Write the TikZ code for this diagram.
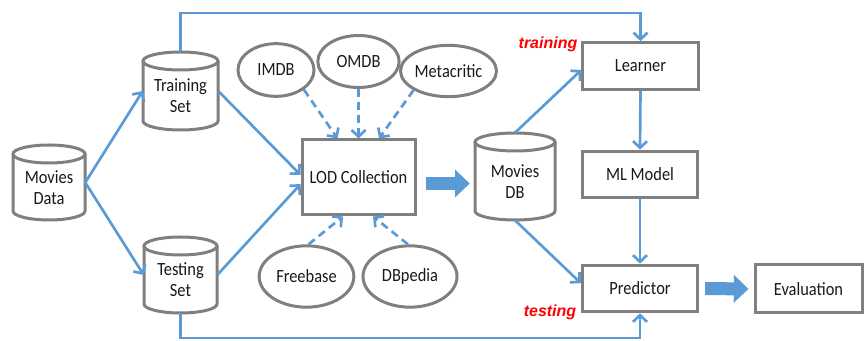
\documentclass[tikz,border=0pt]{standalone}
\usepackage{fontspec}
\setmainfont{Carlito}[FakeStretch=0.88]
\newfontfamily\redfont{Liberation Sans}
\usetikzlibrary{arrows.meta,shapes.geometric,calc}
\definecolor{bl}{HTML}{5B9BD5}
\definecolor{gr}{HTML}{7F7F7F}
\newcommand\mycyl[6]{%
  \pgfmathsetmacro\cylcx{(#2+#4)/2}%
  \pgfmathsetmacro\cylcy{(#3+#5)/2}%
  \pgfmathsetmacro\cylrx{(#4-#2)/2*0.75}%
  \pgfmathsetmacro\cylw{(#4-#2)*0.75}%
  \pgfmathsetmacro\cylh{(#5-#3)*0.75}%
  \node[inner sep=0pt, minimum width=\cylw pt, minimum height=\cylh pt] (#1) at (\cylcx,\cylcy) {};
  \draw[cylline] (#2,#3+9) -- (#2,#5-9) arc[start angle=180,end angle=360,x radius=\cylrx pt,y radius=6.75pt] -- (#4,#3+9);
  \draw[cylline] (\cylcx,#3+9) ellipse[x radius=\cylrx pt, y radius=6.75pt];
  \node[txt] (#1t) at (\cylcx,\cylcy+5) {#6};
}
\begin{document}
\begin{tikzpicture}[x=0.75pt,y=-0.75pt,
  txt/.style={font=\fontsize{14}{15.75}\selectfont, text=black!90, align=center, inner sep=0pt},
  cylline/.style={draw=gr, line width=2.25pt},
  box/.style={txt, draw=gr, line width=2.25pt, rectangle, minimum width=86.5pt, minimum height=35pt},
  src/.style={txt, draw=gr, line width=2.25pt, ellipse},
  arr/.style={draw=bl, line width=2pt, -{Straight Barb[length=5pt,width=10.5pt]}},
  darr/.style={arr, dash pattern=on 6pt off 3.75pt},
  fat/.style={draw=bl, line width=9.75pt, -{Triangle[length=11pt,width=20.25pt]}},
  redlbl/.style={font=\redfont\fontsize{12}{14}\selectfont\bfseries\itshape, text=red, inner sep=0pt}
]
\useasboundingbox (0,0) rectangle (864,341);

% cylinders
\mycyl{md}{13}{145}{85}{220}{Movies\\Data}
\mycyl{train}{143}{52}{218}{130}{Training\\Set}
\mycyl{test}{144}{237}{217}{313}{Testing\\Set}
\mycyl{mdb}{475}{133}{555}{220}{Movies\\DB}

% boxes
\node[box, minimum width=84.75pt, minimum height=56.25pt] (lod) at (358.5,177.5) {LOD Collection};
\node[box] (learn) at (640.5,66) {Learner};
\node[box] (ml) at (640,174.5) {ML Model};
\node[box] (pred) at (640,288.5) {Predictor};
\node[box, minimum width=80.25pt, minimum height=36pt] (eval) at (808.5,289) {Evaluation};

% ellipses
\node[src, minimum width=57pt, minimum height=39.5pt] (imdb) at (276,70) {IMDB};
\node[src, minimum width=61pt, minimum height=39pt] (omdb) at (358.5,61.5) {OMDB};
\node[src, minimum width=64pt, minimum height=38.5pt] (meta) at (448.5,71) {Metacritic};
\node[src, minimum width=71pt, minimum height=46pt] (free) at (306.5,276.5) {Freebase};
\node[src, minimum width=70.5pt, minimum height=46pt] (dbp) at (410,276.5) {DBpedia};

% red labels
\node[redlbl] (lbltrain) at (548,44) {training};
\node[redlbl] (lbltest) at (550,312) {testing};

% solid arrows
\draw[arr] (md.east) -- (train.west);
\draw[arr] (md.east) -- (test.west);
\draw[arr] (train.east) -- ([yshift=2pt]lod.west);
\draw[arr] (test.east) -- ([yshift=-5pt]lod.west);
\draw[arr] (mdb.north) -- ([yshift=-3pt]learn.west);
\draw[arr] (mdb.south) -- ([yshift=4pt]pred.west);
\draw[arr] (learn.south) -- (ml.north);
\draw[arr] (ml.south) -- (pred.north);

% loops
\coordinate (topc) at (640.5,13);
\coordinate (botc) at (640,338);
\draw[arr] (train.north) |- (topc) -- (learn.north);
\draw[arr] (test.south) |- (botc) -- (pred.south);

% dashed arrows
\draw[darr] (imdb.south east) -- ([xshift=-15.75pt]lod.north);
\draw[darr] (omdb.south) -- (lod.north);
\draw[darr] (meta.south west) -- ([xshift=15.4pt]lod.north);
\draw[darr] ([xshift=1.5pt]free.north) -- ([xshift=-11.6pt]lod.south);
\draw[darr] ([xshift=-1.5pt]dbp.north) -- ([xshift=10.9pt]lod.south);

% fat arrows
\draw[fat, shorten <=6.75pt, shorten >=3.75pt] ([yshift=-4.5pt]lod.east) -- ([yshift=-4.5pt]lod.east -| mdb.west);
\draw[fat, shorten <=4.5pt, shorten >=3.75pt] (pred.east) -- (eval.west);
\end{tikzpicture}
\end{document}
